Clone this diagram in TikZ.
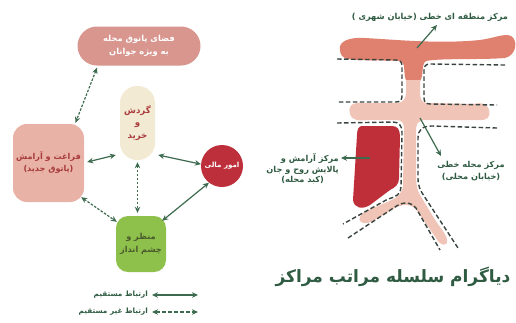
\documentclass[tikz,border=0pt]{standalone}
\usepackage{fontspec}
\setmainfont{DejaVu Sans}
\newfontfamily\fa[Script=Arabic]{DejaVu Sans}
\TeXXeTstate=1
\usetikzlibrary{arrows.meta,calc}
\definecolor{pillrose}{HTML}{D8968F}
\definecolor{cream}{HTML}{F3EAD3}
\definecolor{salmon}{HTML}{E8B3A6}
\definecolor{crimson}{HTML}{BD2F3B}
\definecolor{leaf}{HTML}{8EC04C}
\definecolor{arrowgreen}{HTML}{3D6B4F}
\definecolor{darkred}{HTML}{A83A3C}
\definecolor{leaftext}{HTML}{4A5A2C}
\definecolor{blobdark}{HTML}{E0806E}
\definecolor{bloblight}{HTML}{F0C4B6}
\definecolor{blobred}{HTML}{BF2F3A}
\definecolor{dashgray}{HTML}{3A443F}
\definecolor{labgreen}{HTML}{2F5B42}
\newcommand\fl[1]{{\fa\beginR #1\endR}}
\tikzset{
  boxnode/.style={draw=none, align=center, inner sep=0pt, font=\fa\bfseries\fontsize{8.3}{12.5}\selectfont},
  conn/.style={arrowgreen, line width=1.2pt, {Stealth[length=6pt,width=5.5pt]}-{Stealth[length=6pt,width=5.5pt]}},
  dconn/.style={conn, dash pattern=on 2.5pt off 1.5pt},
  zone/.style={dashgray, line width=1.4pt, dash pattern=on 4.5pt off 2.5pt},
  larrow/.style={arrowgreen, line width=1.2pt, -{Stealth[length=6pt,width=5.5pt]}},
  lab/.style={labgreen, align=center, inner sep=0pt, font=\fa\bfseries\fontsize{8.2}{12}\selectfont},
}
\begin{document}
\begin{tikzpicture}[x=1pt,y=-1pt]
\useasboundingbox (0,0) rectangle (516,322);
\fill[white] (0,0) rectangle (516,322);

% ---------- left diagram ----------
\node[boxnode, fill=pillrose, text=white, minimum width=123pt, minimum height=39pt, rounded corners=19.5pt] (top) at (139,46) {\fl{فضای پاتوق محله}\\\fl{به ویژه جوانان}};
\node[boxnode, fill=cream, text=darkred, minimum width=35pt, minimum height=74pt, rounded corners=17pt, font=\fa\bfseries\fontsize{8.6}{12.5}\selectfont] (tall) at (137.5,123) {\fl{گردش}\\\fl{و}\\\fl{خرید}};
\node[boxnode, fill=salmon, text=darkred, minimum width=71pt, minimum height=78pt, rounded corners=14pt, font=\fa\bfseries\fontsize{8.1}{12}\selectfont] (left) at (48.5,163) {\fl{فراغت و آرامش}\\\fl{(پاتوق جدید)}};
\node[boxnode, circle, fill=crimson, text=white, minimum size=42pt, font=\fa\bfseries\fontsize{7.1}{10}\selectfont] (circ) at (222,166) {\fl{امور مالی}};
\node[boxnode, fill=leaf, text=leaftext, minimum width=50pt, minimum height=56pt, rounded corners=12pt, font=\fa\bfseries\fontsize{8.2}{13}\selectfont] (green) at (141,244) {\fl{منظر و}\\\fl{چشم انداز}};

\draw[dconn] ([xshift=-42pt,yshift=-2pt]top.south) -- ([xshift=27pt,yshift=1pt]left.north);
\draw[conn] ([xshift=3pt,yshift=1pt]left.east) -- ([xshift=-4pt,yshift=-32pt]tall.west);
\draw[conn] ([xshift=3pt,yshift=-32pt]tall.east) -- (circ.175);
\draw[dconn] ([yshift=-2pt]tall.south) -- ([xshift=-3.5pt,yshift=3pt]green.north);
\draw[dconn] ([xshift=-3pt,yshift=5pt]left.south east) -- ([xshift=1pt,yshift=-6pt]green.north west);
\draw[conn] (circ.232) -- ([xshift=-4pt,yshift=-5pt]green.north east);

% legend
\coordinate (l1a) at (152,295);
\coordinate (l1b) at (198,295);
\coordinate (l2a) at (152,312);
\coordinate (l2b) at (198,312);
\draw[conn] (l1a) -- (l1b);
\draw[conn, dash pattern=on 4pt off 2pt] (l2a) -- (l2b);
\node[lab, anchor=east, font=\fa\bfseries\fontsize{7.3}{9}\selectfont] (leg1) at (148,295) {\fl{ارتباط مستقیم}};
\node[lab, anchor=east, font=\fa\bfseries\fontsize{7.3}{9}\selectfont] (leg2) at (148,312) {\fl{ارتباط غیر مستقیم}};

% ---------- right diagram ----------
\fill[blobdark] (340,50) .. controls (338,41) and (350,37) .. (365,38)
  .. controls (400,40) and (440,44) .. (480,40)
  .. controls (495,38) and (504,33) .. (511,36)
  .. controls (518,40) and (517,55) .. (505,58)
  .. controls (480,60) and (440,58) .. (426,61)
  .. controls (421,64) and (424,76) .. (420,81)
  .. controls (416,85) and (409,85) .. (406,80)
  .. controls (403,74) and (406,64) .. (401,61)
  .. controls (385,60) and (360,61) .. (348,59)
  .. controls (343,58) and (340,55) .. (340,50) -- cycle;

\fill[bloblight] (406,80) -- (406,92) .. controls (406,98) and (404,102) .. (398,103)
  -- (362,103) .. controls (350,102) and (348,108) .. (350,114)
  .. controls (352,121) and (360,121) .. (368,120) -- (398,120)
  .. controls (403,121) and (404,124) .. (404,130) -- (403,186)
  .. controls (402,195) and (395,199) .. (385,203) -- (368,210)
  .. controls (361,213) and (357,219) .. (361,222)
  .. controls (365,225) and (372,222) .. (378,218) -- (395,208)
  .. controls (405,203) and (412,204) .. (418,212) -- (436,238)
  .. controls (440,246) and (448,247) .. (447,240)
  .. controls (447,235) and (440,228) .. (432,215) -- (420,195)
  .. controls (416,188) and (416,180) .. (416,170) -- (416,130)
  .. controls (416,124) and (418,121) .. (424,120) -- (478,120)
  .. controls (487,121) and (491,117) .. (489,110)
  .. controls (487,103) and (480,102) .. (474,104) -- (426,103)
  .. controls (421,102) and (420,98) .. (420,92) -- (420,80) -- cycle;

\fill[blobred] (362,126) -- (392,126) .. controls (398,126) and (400,130) .. (400,137)
  -- (399,178) .. controls (399,184) and (396,187) .. (390,190)
  -- (370,205) .. controls (362,210) and (354,208) .. (353,200)
  -- (357,135) .. controls (357,129) and (359,126) .. (362,126) -- cycle;

% zone boundaries
\draw[zone] (337,59) -- (396,60) .. controls (400,60) and (402,62) .. (402,66) -- (402,96) .. controls (402,100) and (400,102) .. (396,102) -- (337,102);
\draw[zone] (505,65) -- (430,64) .. controls (426,64) and (424,66) .. (424,70) -- (424,98) .. controls (424,102) and (426,104) .. (430,104) -- (497,105);
\draw[zone] (337,123) -- (393,122) .. controls (399,122) and (402,126) .. (402,132) -- (401,187) .. controls (401,194) and (396,197) .. (388,199) -- (343,224);
\draw[zone] (497,128) -- (432,126) .. controls (422,126) and (418,130) .. (418,138) -- (418,178) .. controls (418,186) and (420,190) .. (424,196) -- (458,248);
\draw[zone] (348,238) -- (395,207) .. controls (402,202) and (410,201) .. (416,208) -- (440,250);

% labels
\node[lab] (labA) at (430,17) {\fl{مرکز منطقه ای خطی (خیابان شهری )}};
\coordinate (a1s) at (417,48);
\coordinate (a1e) at (437,25);
\draw[larrow] (a1s) -- (a1e);

\node[lab] (labB) at (471,171) {\fl{مرکز محله خطی}\\\fl{(خیابان محلی)}};
\coordinate (a2s) at (420,118);
\coordinate (a2e) at (441,156);
\draw[larrow] (a2s) -- (a2e);

\node[lab, anchor=east] (labC) at (339,170) {\begin{tabular}{@{}r@{}}\fl{مرکز آرامش و}\\[-1.5pt]\fl{پالایش روح و جان}\\[-1.5pt]\multicolumn{1}{@{}c@{}}{\fl{(کبد محله)}}\end{tabular}};
\coordinate (a3s) at (370,158);
\coordinate (a3e) at (341,158);
\draw[larrow] (a3s) -- (a3e);

\node[labgreen, inner sep=0pt, font=\fa\bfseries\fontsize{17}{20}\selectfont] (title) at (393,277) {\fl{دیاگرام سلسله مراتب مراکز}};
\end{tikzpicture}
\end{document}
